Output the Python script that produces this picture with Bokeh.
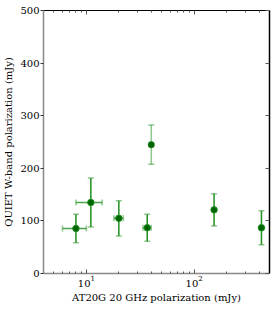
from bokeh.plotting import figure
from bokeh.models import (ColumnDataSource, Whisker, TeeHead, FixedTicker,
                          LogAxis, LinearAxis, Range1d, CustomJSTickFormatter)
from bokeh.embed import file_html
from bokeh.resources import INLINE

# data
x_vals = [8.0, 11.0, 20.0, 36.7, 153.0, 421.0]
y_vals = [85.5, 135.0, 105.0, 87.0, 121.0, 87.0]
x_err = [2.0, 3.0, 2.0, 3.2, 0.0, 0.0]
y_err = [27.0, 46.5, 33.5, 25.5, 30.5, 32.5]

# faint (semi-transparent) source
x_faint = [40.0]
y_faint = [245.0]
y_err_faint = [37.5]

y_ticks = [0, 100, 200, 300, 400, 500]
x_major = [10, 100]
x_minor = [5, 6, 7, 8, 9, 20, 30, 40, 50, 60, 70, 80, 90, 200, 300, 400]

FONT = "DejaVu Serif"
LINE = "#1f8f1f"
MARK = "#006400"

p = figure(width=274, height=309, x_axis_type="log",
           x_range=Range1d(4, 500), y_range=Range1d(0, 500),
           output_backend="svg", toolbar_location=None,
           min_border_left=42, min_border_right=5, min_border_top=10,
           min_border_bottom=36)
p.outline_line_color = None
p.xgrid.visible = False
p.ygrid.visible = False
p.background_fill_color = "white"

src = ColumnDataSource(dict(
    x=x_vals, y=y_vals,
    ylo=[a - b for a, b in zip(y_vals, y_err)],
    yhi=[a + b for a, b in zip(y_vals, y_err)],
))
xsrc = ColumnDataSource(dict(
    x=[a for a, e in zip(x_vals, x_err) if e > 0],
    y=[a for a, e in zip(y_vals, x_err) if e > 0],
    xlo=[a - e for a, e in zip(x_vals, x_err) if e > 0],
    xhi=[a + e for a, e in zip(x_vals, x_err) if e > 0],
))
fsrc = ColumnDataSource(dict(
    x=x_faint, y=y_faint,
    ylo=[a - b for a, b in zip(y_faint, y_err_faint)],
    yhi=[a + b for a, b in zip(y_faint, y_err_faint)],
))


def head(alpha):
    return TeeHead(size=6, line_color=LINE, line_alpha=alpha, line_width=1.5)


wy = Whisker(source=src, base="x", lower="ylo", upper="yhi", dimension="height",
             line_color=LINE, line_width=1.5,
             lower_head=head(0.5), upper_head=head(0.5))
wx = Whisker(source=xsrc, base="y", lower="xlo", upper="xhi", dimension="width",
             line_color=LINE, line_width=1.5, line_alpha=0.8,
             lower_head=head(0.5), upper_head=head(0.5))
wf = Whisker(source=fsrc, base="x", lower="ylo", upper="yhi", dimension="height",
             line_color=LINE, line_width=1.5, line_alpha=0.5,
             lower_head=head(0.5), upper_head=head(0.5))
p.add_layout(wy)
p.add_layout(wx)
p.add_layout(wf)

p.scatter("x", "y", source=src, size=6.5, fill_color=MARK, line_color=LINE,
          line_width=1)
p.scatter("x", "y", source=fsrc, size=6.5, fill_color=MARK, line_color=LINE,
          line_width=1, line_alpha=0.5)

# bottom axis
xa = p.xaxis[0]
xa.ticker = FixedTicker(ticks=x_major, minor_ticks=x_minor)
xa.axis_line_color = "#888888"
xa.axis_line_width = 1.5
xa.major_tick_in = 4
xa.major_tick_out = 0
xa.minor_tick_in = 2
xa.minor_tick_out = 0
xa.major_tick_line_color = "#555555"
xa.minor_tick_line_color = "#555555"
xa.major_label_text_font = FONT
xa.major_label_text_font_size = "10px"
xa.major_label_text_color = "black"
xa.major_label_standoff = 2
xa.axis_label = "AT20G 20 GHz polarization (mJy)"
xa.axis_label_text_font = FONT
xa.axis_label_text_font_size = "10px"
xa.axis_label_text_font_style = "normal"
xa.axis_label_text_color = "black"
xa.axis_label_standoff = 2

# left axis
ya = p.yaxis[0]
ya.ticker = FixedTicker(ticks=y_ticks, minor_ticks=[])
ya.axis_line_color = "#888888"
ya.axis_line_width = 1.5
ya.major_tick_in = 0
ya.major_tick_out = 3
ya.major_tick_line_color = "#333333"
ya.minor_tick_in = 0
ya.minor_tick_out = 0
ya.major_label_text_font = FONT
ya.major_label_text_font_size = "10px"
ya.major_label_text_color = "black"
ya.major_label_standoff = 1
ya.axis_label = "QUIET W-band polarization (mJy)"
ya.axis_label_text_font = FONT
ya.axis_label_text_font_size = "10px"
ya.axis_label_text_font_style = "normal"
ya.axis_label_text_color = "black"
ya.axis_label_standoff = 3

blank = CustomJSTickFormatter(code="return '';")

# top axis (ticks only)
ta = LogAxis(ticker=FixedTicker(ticks=x_major, minor_ticks=x_minor),
             formatter=blank)
ta.axis_line_color = "black"
ta.axis_line_width = 1
ta.major_tick_in = 4
ta.major_tick_out = 0
ta.minor_tick_in = 2
ta.minor_tick_out = 0
ta.major_tick_line_color = "#555555"
ta.minor_tick_line_color = "#555555"
ta.major_label_text_font_size = "1px"
ta.major_label_standoff = 0
p.add_layout(ta, "above")

# right axis (ticks only)
ra = LinearAxis(ticker=FixedTicker(ticks=y_ticks, minor_ticks=[]),
                formatter=blank)
ra.axis_line_color = "black"
ra.axis_line_width = 1.5
ra.major_tick_in = 4
ra.major_tick_out = 0
ra.minor_tick_in = 0
ra.minor_tick_out = 0
ra.major_tick_line_color = "#555555"
ra.major_label_text_font_size = "1px"
ra.major_label_standoff = 0
p.add_layout(ra, "right")

open("out.html", "w").write(file_html(p, INLINE))
